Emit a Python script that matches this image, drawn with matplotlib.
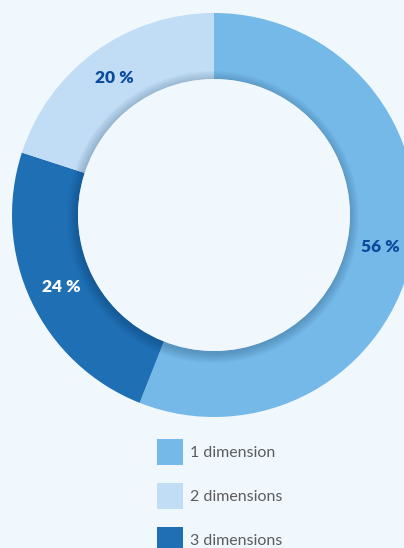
import matplotlib.pyplot as plt
from matplotlib.patches import Circle, Patch

# data
labels = ["1 dimension", "3 dimensions", "2 dimensions"]
shares = [56, 24, 20]
colors = ["#74B9E8", "#1F6FB5", "#C0DDF5"]
text_colors = ["#0B4A9C", "#FFFFFF", "#0B4A9C"]
legend_order = ["1 dimension", "2 dimensions", "3 dimensions"]

BG = "#F0F8FE"
W, H = 404, 548

fig = plt.figure(figsize=(W / 100, H / 100), dpi=100, facecolor=BG)
ax = fig.add_axes([0, 0, 1, 1])
ax.set_facecolor(BG)

cx, cy = 214, H - 215
r_out, r_in = 202, 136

wedges, texts, autotexts = ax.pie(
    shares, colors=colors, startangle=90, counterclock=False,
    center=(cx, cy), radius=r_out, frame=True,
    wedgeprops=dict(width=r_out - r_in, linewidth=0),
    autopct=lambda p: f"{p:.0f} %", pctdistance=(r_out + r_in) / 2 / r_out,
    textprops=dict(fontsize=12.5, fontweight="heavy", family="Lato"),
)
for t, c in zip(autotexts, text_colors):
    t.set_color(c)
ax.set_xlim(0, W)
ax.set_ylim(0, H)
ax.set_aspect("equal")
ax.axis("off")

# soft shadow falling from the hole onto the ring
for k in range(10):
    ax.add_patch(Circle((cx - 1, cy - 2), r_in + 10 - k, color="#0a2a4a",
                        alpha=0.022, lw=0, zorder=3))
ax.add_patch(Circle((cx, cy), r_in, color=BG, lw=0, zorder=4))

handles = [Patch(facecolor=colors[labels.index(l)], edgecolor="none") for l in legend_order]
leg = ax.legend(handles, legend_order, loc="upper left",
                bbox_to_anchor=(157 / W, 1 - 439 / H), frameon=False,
                borderpad=0, borderaxespad=0,
                handlelength=1.63, handleheight=2.12,
                handletextpad=0.42, labelspacing=1.13,
                prop=dict(family="Lato", size=11.5))
for t in leg.get_texts():
    t.set_color("#5c5c5c")

fig.savefig("out.png", dpi=100, facecolor=BG)
